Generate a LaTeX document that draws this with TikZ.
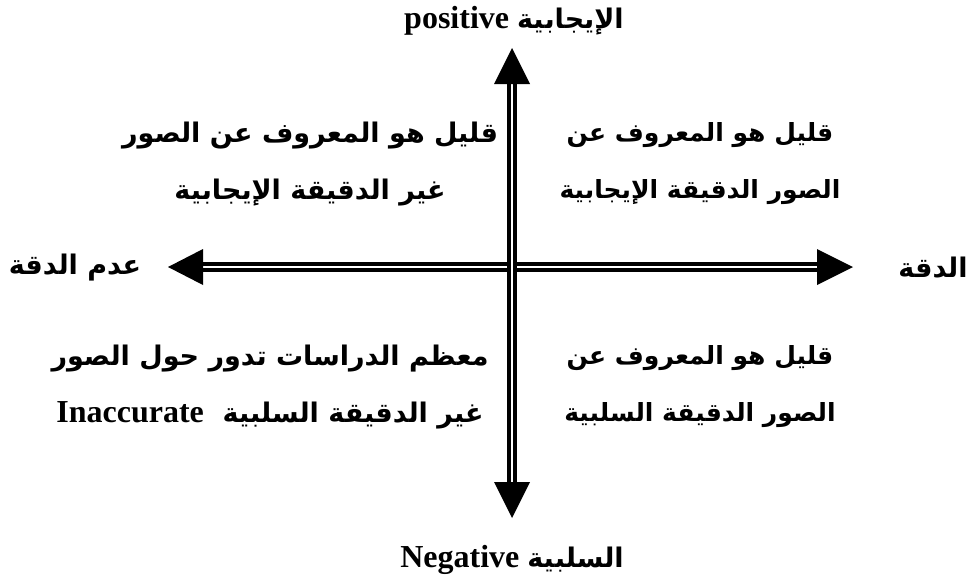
\documentclass[tikz,border=0pt]{standalone}
\usepackage{fontspec}
\setmainfont{Liberation Serif}
\newfontfamily\arabicfont[Script=Arabic]{DejaVu Sans}
\TeXXeTstate=1
\begin{document}
\begin{tikzpicture}[x=1pt,y=-1pt,
  axisline/.style={draw=black,line width=3.5pt,double=white,double distance=2.5pt},
  tiphead/.style={fill=black},
  artext/.style={font=\arabicfont\bfseries\fontsize{27}{57}\selectfont,align=center,inner sep=0pt},
  artextr/.style={font=\arabicfont\bfseries\fontsize{25}{57}\selectfont,align=center,inner sep=0pt},
  latext/.style={font=\bfseries\fontsize{32}{38}\selectfont,inner sep=0pt}]
\useasboundingbox (0,0) rectangle (970,582);
% axis end points
\coordinate (T) at (512,48);
\coordinate (Tb) at (512,84);
\coordinate (B) at (512,518);
\coordinate (Bb) at (512,482);
\coordinate (L) at (168,267);
\coordinate (Lb) at (203,267);
\coordinate (R) at (853,267);
\coordinate (Rb) at (817,267);
% shafts
\draw[axisline] (Lb) -- (Rb);
\draw[axisline] (Tb) -- (Bb);
% heads
\fill[tiphead] (T) -- ([xshift=-18pt]Tb) -- ([xshift=18pt]Tb) -- cycle;
\fill[tiphead] (B) -- ([xshift=-18pt]Bb) -- ([xshift=18pt]Bb) -- cycle;
\fill[tiphead] (L) -- ([yshift=18pt]Lb) -- ([yshift=-18pt]Lb) -- cycle;
\fill[tiphead] (R) -- ([yshift=18pt]Rb) -- ([yshift=-18pt]Rb) -- cycle;
% axis labels
\node[latext] (pos) at (514,21) {positive {\arabicfont\fontsize{27}{30}\selectfont\beginR الإيجابية\endR}};
\node[latext] (neg) at (512,560) {Negative {\arabicfont\fontsize{27}{30}\selectfont\beginR السلبية\endR}};
\node[artext] (acc) at (933,268) {\beginR الدقة\endR};
\node[artext] (inacc) at (75,268) {\beginR عدم الدقة\endR};
% quadrant texts
\node[artext] (ul) at (310,164) {\beginR قليل هو المعروف عن الصور\endR\\\beginR غير الدقيقة الإيجابية\endR};
\node[artextr] (ur) at (700,164) {\beginR قليل هو المعروف عن\endR\\\beginR الصور الدقيقة الإيجابية\endR};
\node[artext] (ll) at (270,387) {\beginR معظم الدراسات تدور حول الصور\endR\\{\rmfamily\fontsize{32}{57}\selectfont Inaccurate}\ \ \beginR غير الدقيقة السلبية\endR};
\node[artextr] (lr) at (700,387) {\beginR قليل هو المعروف عن\endR\\\beginR الصور الدقيقة السلبية\endR};
\end{tikzpicture}
\end{document}
